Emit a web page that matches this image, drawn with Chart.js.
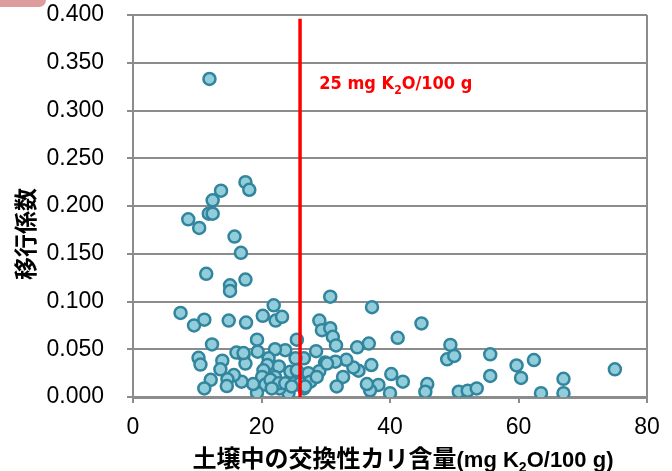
<!DOCTYPE html>
<html>
<head>
<meta charset="utf-8">
<script src="https://cdn.jsdelivr.net/npm/chart.js@4.4.0/dist/chart.umd.min.js"></script>
<style>
  html, body { margin: 0; padding: 0; background: #fff; }
  #wrap { position: relative; width: 672px; height: 471px; }
  #tab { position: absolute; left: 0; top: 0; width: 46px; height: 7px; background: #df9c9c; border-bottom-right-radius: 8px; }
</style>
</head>
<body>
<div id="wrap">
  <canvas id="chart" width="672" height="471"></canvas>
  <div id="tab"></div>
</div>
<script>
// exchangeable potassium in soil (mg K2O/100 g) and transfer coefficient
const exchangeableK = [
  11.9, 17.5, 18.1, 13.7, 12.4, 11.8, 12.4, 8.6, 10.3, 15.8,
  16.8, 11.4, 17.5, 15.1, 15.1, 21.9, 30.7, 37.2, 7.4, 9.5,
  11.1, 14.9, 17.6, 20.2, 22.2, 23.2, 29.0, 29.4, 30.7, 31.1,
  31.6, 44.9, 41.2, 36.7, 34.9, 12.3, 19.3, 25.5, 49.4, 48.9,
  50.0, 55.6, 55.6, 59.7, 60.4, 62.4, 63.5, 67.0, 67.0, 75.0,
  50.7, 52.1, 53.5, 45.8, 45.5, 40.2, 42.0, 40.0, 38.2, 36.9,
  36.4, 37.1, 35.1, 34.3, 33.2, 31.5, 29.9, 32.7, 31.7, 29.0,
  28.5, 27.3, 27.6, 26.6, 26.6, 25.3, 25.0, 26.0, 24.2, 23.7,
  22.1, 22.7, 22.1, 22.8, 21.1, 20.9, 20.3, 20.1, 20.6, 19.4,
  19.3, 18.7, 16.9, 17.2, 17.5, 16.1, 15.7, 10.2, 10.5, 13.9,
  13.6, 14.7, 12.1, 11.1, 14.6, 24.5, 25.5, 21.4, 22.7, 21.6,
  23.7, 24.7, 28.6, 17.2, 30.2, 26.8
];
const transferCoef = [
  0.333, 0.225, 0.217, 0.216, 0.206, 0.192, 0.192, 0.186, 0.177, 0.168,
  0.151, 0.129, 0.123, 0.117, 0.111, 0.096, 0.105, 0.094, 0.088, 0.075,
  0.081, 0.080, 0.078, 0.085, 0.080, 0.084, 0.080, 0.070, 0.072, 0.063,
  0.054, 0.077, 0.062, 0.056, 0.052, 0.055, 0.060, 0.060, 0.0545, 0.0395,
  0.043, 0.0447, 0.022, 0.033, 0.020, 0.0387, 0.004, 0.019, 0.004, 0.029,
  0.0055, 0.0066, 0.009, 0.0136, 0.0055, 0.024, 0.016, 0.004, 0.0126, 0.007,
  0.0136, 0.0335, 0.0275, 0.031, 0.039, 0.037, 0.036, 0.021, 0.011, 0.027,
  0.048, 0.025, 0.016, 0.009, 0.0405, 0.0405, 0.0143, 0.0143, 0.004, 0.049,
  0.050, 0.032, 0.021, 0.009, 0.0405, 0.0335, 0.028, 0.021, 0.013, 0.0475,
  0.0045, 0.0136, 0.016, 0.044, 0.035, 0.0465, 0.023, 0.041, 0.034, 0.038,
  0.029, 0.0185, 0.018, 0.009, 0.0115, 0.0265, 0.028, 0.018, 0.0143, 0.009,
  0.0143, 0.011, 0.021, 0.046, 0.035, 0.011
];
const xTicks = [0, 20, 40, 60, 80];
const yTicks = [0, 0.05, 0.1, 0.15, 0.2, 0.25, 0.3, 0.35, 0.4];
const thresholdK = [26, 26];
const thresholdY = [0, 0.396];

const narrow = "'Liberation Sans Narrow', 'Arial Narrow', 'DejaVu Sans Condensed', sans-serif";
const sans = "'Liberation Sans', Arial, sans-serif";
const cjk = "'Noto Sans CJK JP', sans-serif";
const gray = '#8c8c8c';

// draw text pieces side by side (for subscripts)
function drawRich(ctx, parts, x, y, align) {
  let total = 0;
  parts.forEach(p => { ctx.font = p.font; p.w = ctx.measureText(p.t).width; total += p.w; });
  let cx = align === 'center' ? x - total / 2 : x;
  parts.forEach(p => {
    ctx.font = p.font;
    ctx.fillText(p.t, cx, y + (p.dy || 0));
    cx += p.w;
  });
}

const labels = {
  id: 'labels',
  afterDraw(chart) {
    const { ctx, chartArea, scales } = chart;
    ctx.save();
    ctx.textBaseline = 'alphabetic';

    // threshold label
    ctx.fillStyle = '#ff0000';
    drawRich(ctx, [
      { t: '25 mg K', font: 'bold 18px ' + narrow },
      { t: '2', font: 'bold 12px ' + narrow, dy: 5 },
      { t: 'O/100 g', font: 'bold 18px ' + narrow }
    ], scales.x.getPixelForValue(29), scales.y.getPixelForValue(0.322), 'left');

    // x axis title
    ctx.fillStyle = '#000';
    const cxm = (chartArea.left + chartArea.right) / 2 + 13;
    drawRich(ctx, [
      { t: '土壌中の交換性カリ含量', font: 'bold 24px ' + cjk },
      { t: '(mg K', font: 'bold 22px ' + sans },
      { t: '2', font: 'bold 14px ' + sans, dy: 5 },
      { t: 'O/100 g)', font: 'bold 22px ' + sans }
    ], cxm, 467, 'center');

    // y axis title
    ctx.translate(25, (chartArea.top + chartArea.bottom) / 2 + 28);
    ctx.rotate(-Math.PI / 2);
    ctx.textAlign = 'center';
    ctx.textBaseline = 'middle';
    ctx.font = 'bold 23px ' + cjk;
    ctx.fillText('移行係数', 0, 0);
    ctx.restore();
  }
};

new Chart(document.getElementById('chart'), {
  type: 'scatter',
  data: {
    datasets: [{
      type: 'line',
      data: thresholdK.map((k, i) => ({ x: k, y: thresholdY[i] })),
      borderColor: '#ff0000',
      borderWidth: 3.5,
      pointRadius: 0,
      order: 0
    }, {
      data: exchangeableK.map((k, i) => ({ x: k, y: transferCoef[i] })),
      backgroundColor: '#92cddc',
      borderColor: '#31859c',
      borderWidth: 2.5,
      pointRadius: 6,
      order: 1
    }]
  },
  options: {
    responsive: false,
    animation: false,
    layout: { padding: { top: 15, right: 25, left: 0, bottom: 0 } },
    plugins: { legend: { display: false }, tooltip: { enabled: false } },
    scales: {
      x: {
        type: 'linear', min: 0, max: 80,
        afterBuildTicks: s => { s.ticks = xTicks.map(v => ({ value: v })); },
        afterFit: s => { s.height = 74; s.paddingLeft = 0; s.paddingRight = 0; },
        ticks: { color: '#000', padding: 11, font: { family: sans, size: 23 } },
        grid: {
          color: c => c.tick && c.tick.value === 80 ? gray : 'rgba(0,0,0,0)',
          tickColor: gray, lineWidth: 2, tickLength: 6
        },
        border: { display: true, color: gray, width: 3 }
      },
      y: {
        min: 0, max: 0.4,
        afterBuildTicks: s => { s.ticks = yTicks.map(v => ({ value: v })); },
        afterFit: s => { s.width = 133; s.paddingTop = 0; s.paddingBottom = 0; },
        ticks: { color: '#000', padding: 23, font: { family: sans, size: 23 }, callback: v => v.toFixed(3) },
        grid: { color: gray, lineWidth: 2, tickLength: 6 },
        border: { display: true, color: gray, width: 2 }
      }
    }
  },
  plugins: [labels]
});
</script>
</body>
</html>
